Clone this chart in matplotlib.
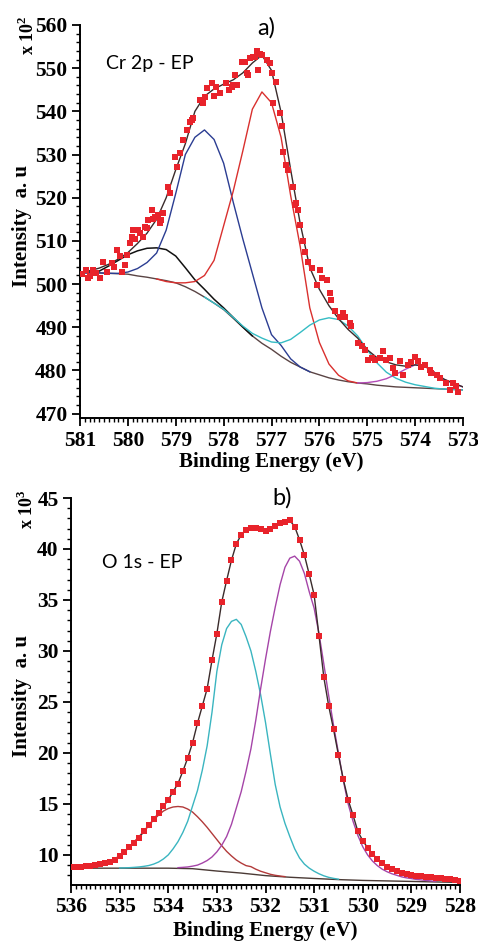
import numpy as np
import matplotlib.pyplot as plt
from matplotlib.ticker import MultipleLocator

# ---- Cr 2p : measured points ----
cr_be = [580.95, 580.88, 580.83, 580.79, 580.72, 580.66, 580.58, 580.51, 580.44, 580.34,
         580.30, 580.23, 580.16, 580.13, 580.06, 580.02, 579.96, 579.92, 579.89, 579.85,
         579.78, 579.75, 579.68, 579.64, 579.61, 579.57, 579.50, 579.47, 579.43, 579.37,
         579.33, 579.30, 579.26, 579.16, 579.12, 579.02, 578.98, 578.91, 578.84, 578.77,
         578.70, 578.66, 578.63, 578.49, 578.43, 578.39, 578.35, 578.25, 578.20, 578.15,
         578.08, 577.94, 577.88, 577.83, 577.80, 577.76, 577.73, 577.62, 577.55, 577.52,
         577.49, 577.45, 577.38, 577.35, 577.31, 577.28, 577.24, 577.20, 577.10, 577.03,
         577.00, 576.96, 576.90, 576.82, 576.79, 576.75, 576.69, 576.65, 576.55, 576.51,
         576.48, 576.44, 576.41, 576.34, 576.30, 576.23, 576.16, 576.06, 575.99, 575.95,
         575.85, 575.78, 575.75, 575.68, 575.57, 575.50, 575.47, 575.36, 575.33, 575.19,
         575.12, 575.05, 574.98, 574.91, 574.84, 574.74, 574.67, 574.60, 574.53, 574.46,
         574.42, 574.32, 574.25, 574.15, 574.08, 574.01, 573.94, 573.88, 573.80, 573.69,
         573.66, 573.55, 573.48, 573.35, 573.28, 573.20, 573.14, 573.10]
cr_counts = [502.3, 503.2, 501.4, 501.8, 503.3, 502.6, 501.4, 505.2, 502.9, 504.8,
             504.0, 507.9, 506.4, 502.9, 504.4, 506.8, 509.5, 511.0, 512.5, 510.5,
             512.5, 511.8, 511.0, 513.3, 513.0, 514.9, 517.2, 515.0, 515.6, 516.0,
             514.1, 514.9, 516.4, 522.6, 521.1, 529.5, 527.2, 530.3, 533.4, 535.7,
             537.6, 538.0, 538.4, 542.6, 542.0, 543.4, 545.3, 546.5, 543.5, 545.7,
             544.2, 546.5, 545.0, 545.7, 546.1, 548.4, 546.1, 551.5, 551.5, 548.8,
             548.4, 552.3, 552.5, 552.7, 553.9, 549.6, 553.3, 553.1, 552.0, 551.1,
             548.8, 541.9, 546.9, 539.6, 536.5, 530.7, 527.6, 526.4, 522.6, 518.3,
             518.7, 517.2, 513.7, 509.9, 507.5, 505.2, 503.7, 499.8, 503.3, 501.4,
             501.0, 497.9, 496.3, 493.7, 492.5, 493.2, 492.5, 491.0, 490.2, 486.3,
             485.6, 484.8, 482.5, 483.0, 482.5, 483.0, 484.4, 482.5, 482.8, 480.6,
             479.4, 482.1, 479.0, 481.3, 482.0, 483.2, 482.1, 480.8, 481.2, 480.2,
             479.4, 479.0, 478.3, 477.1, 475.5, 477.1, 476.3, 475.1]

# ---- Cr 2p : fit curves on a 0.2 eV grid (581 -> 573) ----
cr_grid = np.round(np.arange(581.0, 572.95, -0.2), 1)
cr_bg = [502.6, 502.6, 502.6, 502.5, 502.4, 502.3, 501.9, 501.6, 501.2, 500.8,
         500.3, 499.4, 498.3, 497.0, 495.6, 494.1, 492.1, 490.0, 488.0, 486.3,
         484.9, 483.3, 481.9, 480.8, 479.7, 479.0, 478.3, 477.8, 477.4, 477.1,
         476.9, 476.6, 476.4, 476.2, 476.1, 476.0, 475.9, 475.8, 475.7, 475.6, 475.5]
cr_fit = [502.7, 503.1, 503.7, 504.6, 505.8, 507.3, 509.4, 511.8, 515.0, 520.0,
          526.5, 532.5, 540.0, 543.5, 545.2, 546.3, 547.3, 548.9, 551.2, 553.0,
          549.5, 539.8, 526.5, 514.0, 503.8, 498.8, 495.0, 492.0, 489.5, 487.5,
          484.8, 483.0, 482.0, 481.3, 481.0, 481.3, 481.0, 479.6, 478.0, 477.1, 476.2]
# black component, 581 -> 577.4
cr_k = [502.7, 502.8, 503.0, 504.2, 505.5, 506.8, 507.7, 508.3, 508.4, 508.0,
        506.5, 503.8, 501.0, 498.8, 496.5, 494.5, 492.3, 490.1, 488.0]
# blue component, 581 -> 576.2
cr_b = [502.6, 502.6, 502.6, 502.5, 502.5, 502.8, 503.6, 505.0, 507.2, 512.5,
        521.0, 530.0, 534.0, 535.7, 533.5, 528.0, 519.0, 510.5, 502.5, 494.5,
        488.3, 485.8, 482.7, 480.8, 479.7]
# red component, 579.4 -> 575.2
cr_r = [501.2, 500.6, 500.3, 500.3, 500.6, 502.0, 505.5, 513.5, 521.5, 530.8,
        540.5, 544.5, 542.0, 534.0, 520.5, 508.7, 494.5, 486.5, 481.5, 478.9,
        477.6, 477.1]
# cyan component, 578.4 -> 573.0
cr_c = [497.0, 495.6, 494.2, 492.3, 490.3, 488.6, 487.5, 486.6, 486.4, 487.2,
        488.8, 490.5, 491.7, 492.2, 491.8, 490.3, 488.0, 484.8, 481.8, 479.6,
        478.2, 477.3, 476.7, 476.3, 475.9, 475.7, 475.6, 475.5]
# magenta component, 575.2 -> 573.0
cr_m = [477.1, 477.2, 477.5, 478.1, 479.1, 480.3, 481.3, 481.0, 479.6, 478.0,
        476.9, 476.2]

# ---- O 1s : measured points on a 0.1 eV grid (536 -> 528) ----
o_be = np.round(np.arange(536.0, 527.95, -0.1), 1)
o_counts = [8.8, 8.8, 8.85, 8.9, 8.95, 9.0, 9.1, 9.2, 9.35, 9.55,
            9.85, 10.3, 10.75, 11.2, 11.7, 12.3, 12.9, 13.5, 14.1, 14.75,
            15.4, 16.2, 17.0, 18.2, 19.5, 21.0, 22.9, 24.6, 26.3, 29.1,
            31.7, 34.8, 36.9, 38.9, 40.5, 41.4, 41.9, 42.1, 42.1, 42.0,
            41.8, 42.0, 42.3, 42.5, 42.6, 42.8, 42.2, 40.9, 39.4, 37.5,
            35.5, 31.5, 27.4, 24.6, 22.3, 19.8, 17.4, 15.4, 13.9, 12.3,
            11.4, 10.7, 10.1, 9.6, 9.2, 8.85, 8.6, 8.4, 8.2, 8.1,
            8.0, 7.95, 7.9, 7.85, 7.8, 7.75, 7.7, 7.65, 7.6, 7.55, 7.45]

o_bg_be = [536.0, 535.0, 534.0, 533.5, 533.0, 532.5, 532.0, 531.5, 531.0, 530.5, 530.0, 529.0, 528.0]
o_bg = [8.7, 8.7, 8.7, 8.65, 8.42, 8.22, 7.97, 7.81, 7.69, 7.58, 7.5, 7.4, 7.3]

o_p1_be = np.round(np.arange(535.5, 531.55, -0.1), 1)
o_p1 = [8.8, 8.9, 9.05, 9.3, 9.6, 9.95, 10.35, 10.8, 11.3, 11.8,
        12.35, 12.9, 13.45, 13.9, 14.3, 14.55, 14.7, 14.75, 14.7, 14.5,
        14.2, 13.75, 13.25, 12.7, 12.1, 11.5, 10.9, 10.35, 9.9, 9.5,
        9.2, 8.95, 8.85, 8.6, 8.4, 8.25, 8.1, 8.0, 7.93, 7.87]
o_p2_be = np.round(np.arange(535.0, 530.45, -0.1), 1)
o_p2 = [8.72, 8.73, 8.75, 8.78, 8.82, 8.88, 8.96, 9.1, 9.3, 9.6,
        10.0, 10.6, 11.3, 12.2, 13.3, 14.8, 16.3, 18.3, 20.7, 24.0,
        28.0, 30.6, 32.2, 32.9, 33.1, 32.6, 31.4, 30.0, 28.0, 25.7,
        23.0, 19.9, 16.9, 14.7, 13.1, 11.8, 10.6, 9.7, 9.1, 8.7,
        8.4, 8.15, 7.95, 7.8, 7.7, 7.62]
o_p3_be = np.round(np.arange(533.8, 528.45, -0.1), 1)
o_p3 = [8.75, 8.78, 8.82, 8.9, 9.0, 9.2, 9.45, 9.8, 10.3, 10.95,
        11.8, 13.0, 14.6, 16.2, 18.2, 20.4, 23.2, 26.3, 29.2, 31.9,
        34.3, 36.5, 38.2, 39.1, 39.3, 38.8, 37.6, 35.8, 34.2, 31.7,
        28.7, 25.6, 22.7, 20.0, 17.3, 15.0, 13.3, 11.9, 10.8, 10.0,
        9.4, 8.95, 8.6, 8.35, 8.15, 8.0, 7.85, 7.75, 7.68, 7.6,
        7.55, 7.5, 7.45, 7.4]

RED = '#e8232b'
SERIF = 'Liberation Serif'
plt.rcParams['mathtext.fontset'] = 'custom'
plt.rcParams['mathtext.rm'] = 'Liberation Serif:bold'
plt.rcParams['mathtext.bf'] = 'Liberation Serif:bold'

fig = plt.figure(figsize=(4.78, 9.42), dpi=100)
W, H = 478.0, 942.0
ax_a = fig.add_axes([80 / W, 1 - 418 / H, 383 / W, 393 / H])
ax_b = fig.add_axes([71 / W, 1 - 885 / H, 389 / W, 387 / H])


def style(ax, xlim, ylim, ymaj, ymin):
    ax.set_xlim(*xlim)
    ax.set_ylim(*ylim)
    ax.spines['top'].set_visible(False)
    ax.spines['right'].set_visible(False)
    for s in ('left', 'bottom'):
        ax.spines[s].set_linewidth(1.4)
    ax.xaxis.set_major_locator(MultipleLocator(1))
    ax.xaxis.set_minor_locator(MultipleLocator(0.1))
    ax.yaxis.set_major_locator(MultipleLocator(ymaj))
    ax.yaxis.set_minor_locator(MultipleLocator(ymin))
    ax.tick_params(which='major', length=6, width=1.3, pad=3, labelsize=15.5)
    ax.tick_params(which='minor', length=3, width=1.0)
    for lab in ax.get_xticklabels() + ax.get_yticklabels():
        lab.set_fontfamily(SERIF)
        lab.set_fontweight('bold')


# panel a
style(ax_a, (581, 573), (469, 560), 10, 2)
ax_a.plot(cr_grid, cr_bg, color='#5a4444', lw=1.0)
ax_a.plot(cr_grid[:len(cr_k)], cr_k, color='#111111', lw=1.1)
ax_a.plot(cr_grid[:len(cr_b)], cr_b, color='#2b3d92', lw=1.0)
ax_a.plot(cr_grid[8:8 + len(cr_r)], cr_r, color='#d9302e', lw=1.0)
ax_a.plot(cr_grid[13:13 + len(cr_c)], cr_c, color='#35bcc4', lw=1.0)
ax_a.plot(cr_grid[29:29 + len(cr_m)], cr_m, color='#b44cb8', lw=1.0)
ax_a.plot(cr_grid, cr_fit, color='#3a2b2b', lw=1.0, zorder=3)
ax_a.plot(cr_be, cr_counts, 's', color=RED, ms=4.3, mew=0, zorder=4)

# panel b
style(ax_b, (536, 528), (7.05, 45), 5, 1)
ax_b.plot(o_bg_be, o_bg, color='#4a3a35', lw=1.0)
ax_b.plot(o_p1_be, o_p1, color='#b23a3a', lw=1.0)
ax_b.plot(o_p2_be, o_p2, color='#3ab5c0', lw=1.0)
ax_b.plot(o_p3_be, o_p3, color='#a545a8', lw=1.0)
ax_b.plot(o_be, o_counts, color='#3a2b2b', lw=1.0, zorder=3)
ax_b.plot(o_be, o_counts, 's', color=RED, ms=4.5, mew=0, zorder=4)


def ftext(x, y, s, **kw):
    fig.text(x / W, 1 - y / H, s, ha='center', va='center', **kw)


lab = dict(family=SERIF, fontweight='bold', fontsize=15)
ftext(271, 462, 'Binding Energy (eV)', **lab)
ftext(265, 931, 'Binding Energy (eV)', **lab)
ftext(22, 226, 'Intensity  a. u', rotation=90, **lab)
ftext(22, 696, 'Intensity  a. u', rotation=90, **lab)
ftext(28, 35, r'x 10$^{\mathbf{2}}$', rotation=90, family=SERIF, fontweight='bold', fontsize=13)
ftext(27, 509, r'x 10$^{\mathbf{3}}$', rotation=90, family=SERIF, fontweight='bold', fontsize=13)

note = dict(family='Lato', fontsize=14)
ftext(150, 63, 'Cr 2p - EP', **note)
ftext(142, 563, 'O 1s - EP', **note)
ftext(266, 28, 'a)', family='Lato', fontsize=17)
ftext(282, 498, 'b)', family='Lato', fontsize=17)

fig.savefig('out.png', dpi=100)
